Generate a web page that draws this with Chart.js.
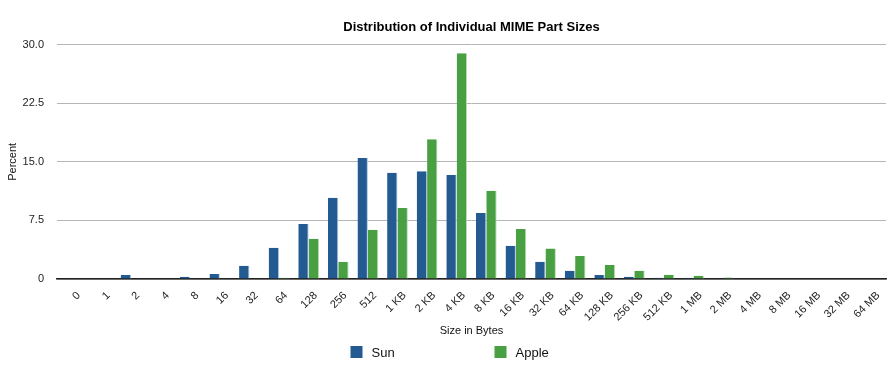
<!DOCTYPE html>
<html>
<head>
<meta charset="utf-8">
<script src="https://cdn.jsdelivr.net/npm/chart.js@4"></script>
<style>
  html, body { margin: 0; padding: 0; background: #fff; }
  #wrap { width: 892px; height: 367px; }
</style>
</head>
<body>
<div id="wrap"><canvas id="chart" width="892" height="367"></canvas></div>
<script>
const sizes = ["0", "1", "2", "4", "8", "16", "32", "64", "128", "256", "512",
  "1 KB", "2 KB", "4 KB", "8 KB", "16 KB", "32 KB", "64 KB", "128 KB", "256 KB", "512 KB",
  "1 MB", "2 MB", "4 MB", "8 MB", "16 MB", "32 MB", "64 MB"];

const sunValues = [0, 0, 0.5, 0, 0.3, 0.65, 1.7, 4.0, 7.05, 10.4, 15.5,
  13.6, 13.8, 13.3, 8.45, 4.25, 2.2, 1.05, 0.5, 0.3, 0.15,
  0.15, 0, 0, 0, 0, 0, 0];

const appleValues = [0, 0, 0, 0, 0, 0, 0, 0.15, 5.15, 2.2, 6.3,
  9.1, 17.9, 28.9, 11.3, 6.4, 3.9, 2.95, 1.8, 1.05, 0.55,
  0.4, 0.2, 0, 0, 0, 0, 0];

const yTicks = [0, 7.5, 15, 22.5, 30];

const FONT = "'Liberation Sans', Arial, Helvetica, sans-serif";

// legend drawn by hand, items are spread wide apart
const wideLegend = {
  id: "wideLegend",
  afterDraw(chart) {
    const ctx = chart.ctx;
    const mid = (chart.chartArea.left + chart.chartArea.right) / 2;
    const y = 352;
    const offsets = [-121, 23];
    ctx.save();
    ctx.font = "13px " + FONT;
    ctx.textBaseline = "middle";
    chart.data.datasets.forEach((ds, i) => {
      const x = mid + offsets[i];
      ctx.fillStyle = ds.backgroundColor;
      ctx.fillRect(x, y - 6, 12, 12);
      ctx.fillStyle = "#111";
      ctx.fillText(ds.label, x + 21, y + 1);
    });
    ctx.restore();
  }
};

new Chart(document.getElementById("chart"), {
  type: "bar",
  data: {
    labels: sizes,
    datasets: [
      {
        label: "Sun",
        data: sunValues,
        backgroundColor: "#235a91",
        borderColor: "#a8c3e0",
        borderWidth: { left: 0, top: 0, right: 1, bottom: 0 },
        borderSkipped: "bottom"
      },
      {
        label: "Apple",
        data: appleValues,
        backgroundColor: "#48a043",
        borderColor: "#b9dcb3",
        borderWidth: { left: 0, top: 0, right: 1, bottom: 0 },
        borderSkipped: "bottom"
      }
    ]
  },
  options: {
    responsive: false,
    animation: false,
    devicePixelRatio: 1,
    layout: { padding: { left: 6, right: 6, top: 0, bottom: 29 } },
    datasets: {
      bar: { categoryPercentage: 0.7, barPercentage: 1.0 }
    },
    plugins: {
      legend: { display: false },
      tooltip: { enabled: false },
      title: {
        display: true,
        fullSize: false, // centre over the plot, not the canvas
        text: "Distribution of Individual MIME Part Sizes",
        color: "#000",
        font: { family: FONT, size: 13, weight: "bold" },
        padding: { top: 20, bottom: 9 }
      }
    },
    scales: {
      x: {
        grid: { display: false, drawTicks: false },
        border: { display: true, color: "#222", width: 1.5 },
        afterFit: s => { s.height = 59; },
        ticks: {
          color: "#222",
          font: { family: FONT, size: 11 },
          minRotation: 45,
          maxRotation: 45,
          autoSkip: false,
          padding: 10,
          labelOffset: 7
        },
        title: {
          display: true,
          text: "Size in Bytes",
          color: "#111",
          font: { family: FONT, size: 11 },
          padding: { top: 0, bottom: 0 }
        }
      },
      y: {
        min: 0,
        max: 30,
        grid: { color: "#b5b5b5", lineWidth: 1, drawTicks: false },
        border: { display: false },
        afterFit: s => { s.width = 51; },
        afterBuildTicks: s => { s.ticks = yTicks.map(v => ({ value: v })); },
        ticks: {
          color: "#222",
          font: { family: FONT, size: 11 },
          padding: 13,
          callback: v => v === 0 ? "0" : v.toFixed(1)
        },
        title: {
          display: true,
          text: "Percent",
          color: "#111",
          font: { family: FONT, size: 11 },
          padding: { top: 0, bottom: 0 }
        }
      }
    }
  },
  plugins: [wideLegend]
});
</script>
</body>
</html>
